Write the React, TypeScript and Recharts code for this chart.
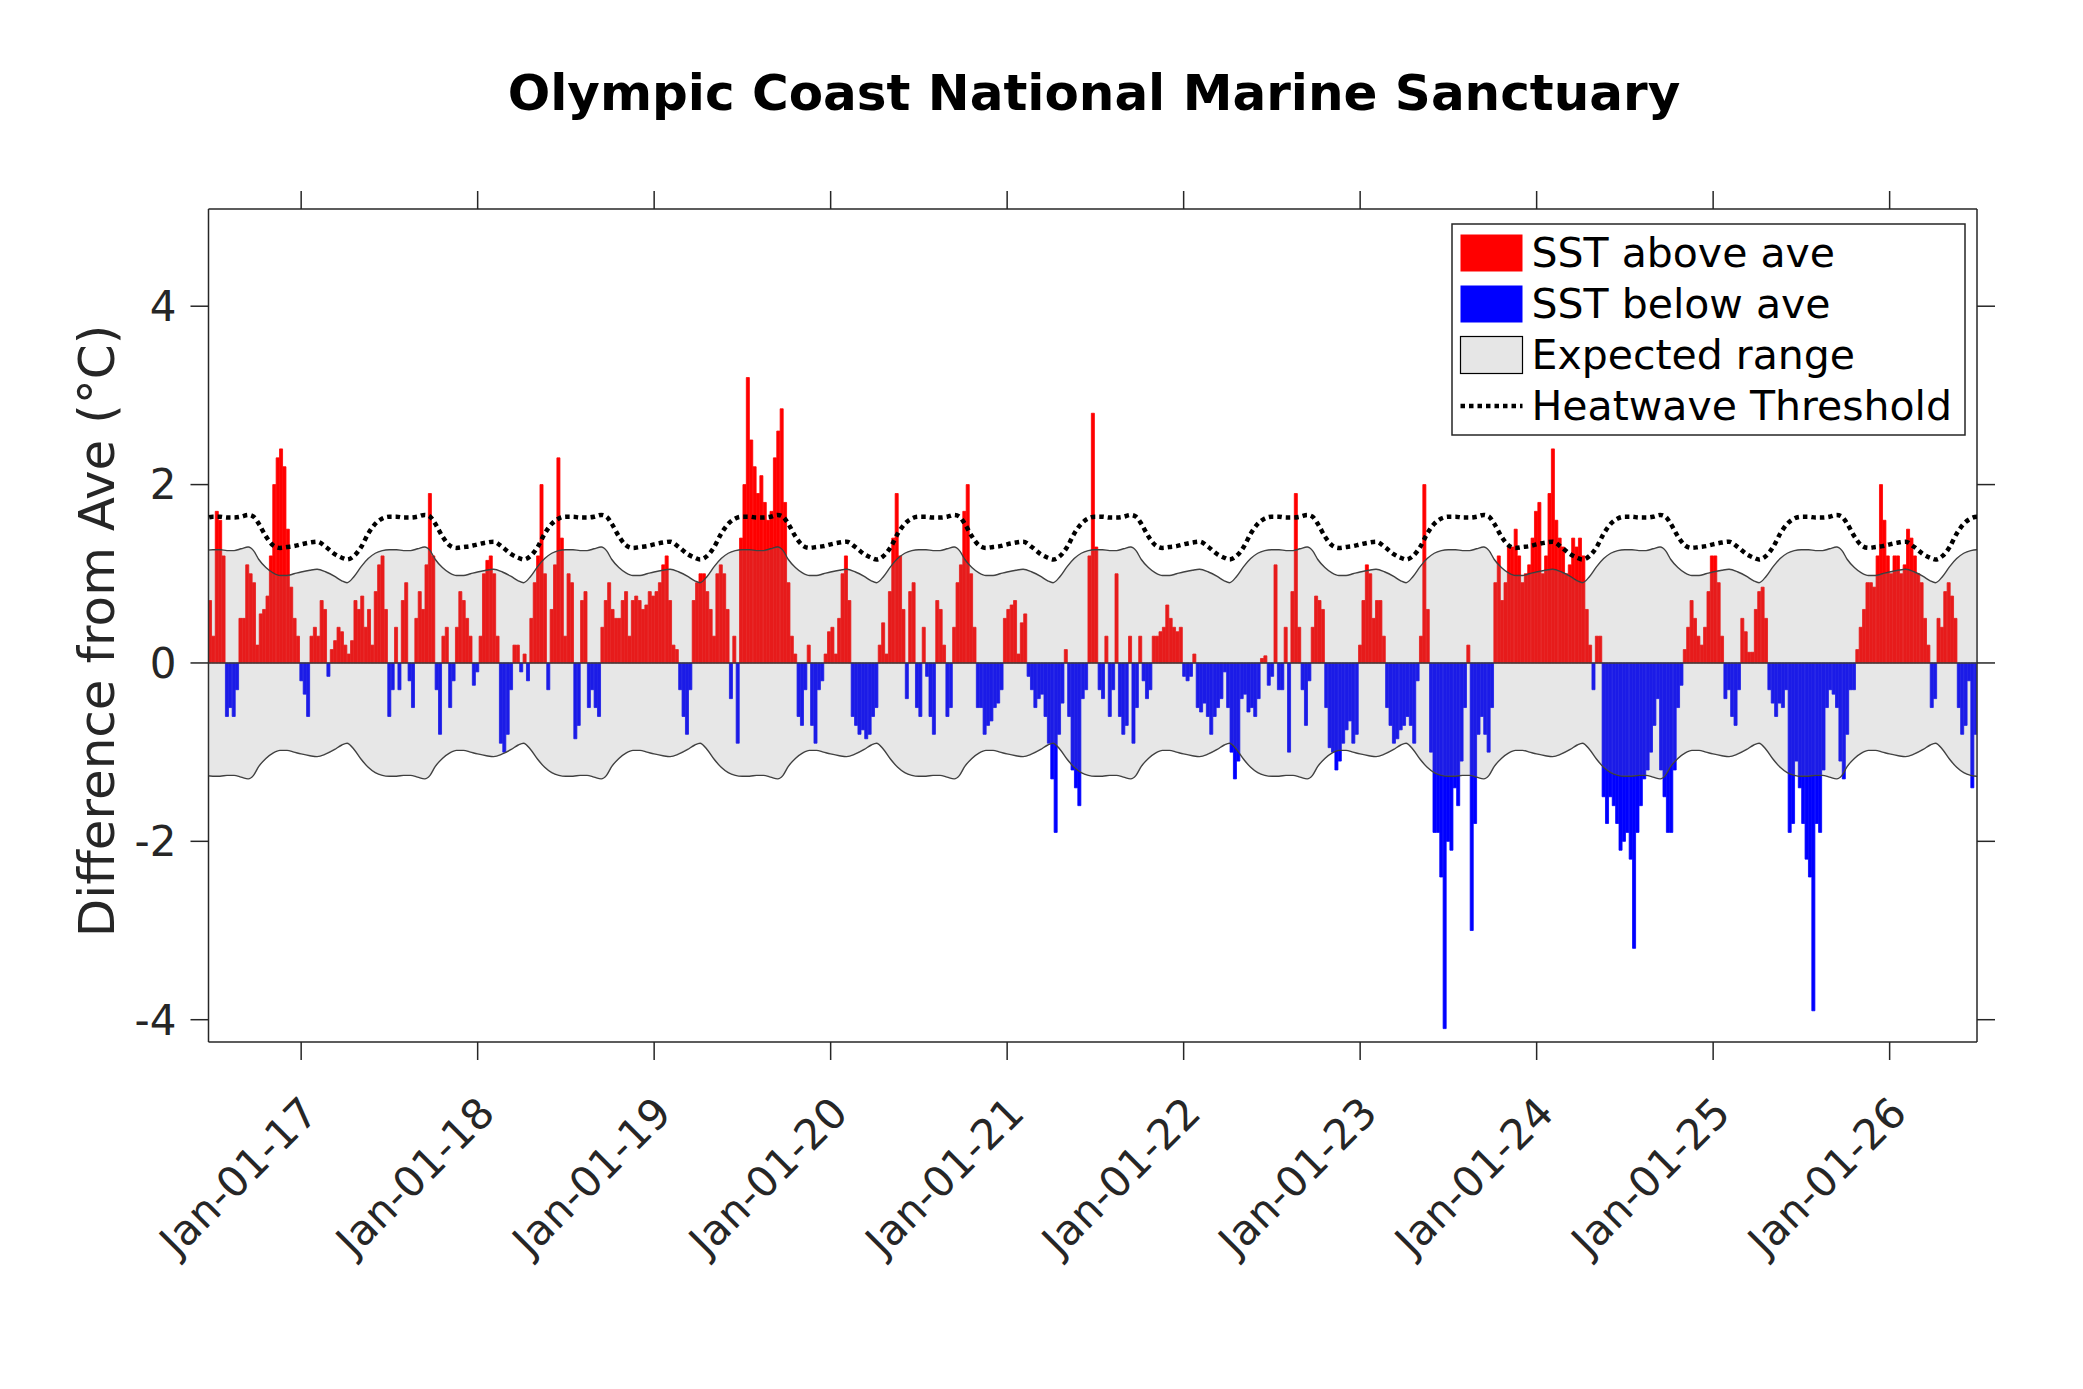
import React from "react"
import { ComposedChart, Bar, Area, Line, XAxis, YAxis, ReferenceLine, Cell } from "recharts"

// weekly SST anomaly (°C), first week starts mid-June 2016
const FIRST_WEEK = 2016.475
const WEEK = 7 / 365.25
const X_DOMAIN = [2016.475, 2026.495]
const Y_DOMAIN = [-4.25, 5.09]
const YEAR_TICKS = [2017, 2018, 2019, 2020, 2021, 2022, 2023, 2024, 2025, 2026]
const Y_TICKS = [-4, -2, 0, 2, 4]

const SST_ANOMALY = [
  0.7, 0.3, 1.7, 1.6, 1.2, -0.6, -0.5, -0.6, -0.3, 0.5,
  0.5, 1.1, 1.0, 0.9, 0.2, 0.55, 0.6, 0.75, 1.2, 2.0,
  2.3, 2.4, 2.2, 1.5, 0.85, 0.5, 0.3, -0.2, -0.35, -0.6,
  0.3, 0.4, 0.3, 0.7, 0.6, -0.15, 0.15, 0.25, 0.4, 0.35,
  0.2, 0.1, 0.25, 0.7, 0.6, 0.75, 0.4, 0.6, 0.2, 0.8,
  1.1, 1.2, 0.6, -0.6, -0.3, 0.4, -0.3, 0.7, 0.9, -0.2,
  -0.5, 0.5, 0.8, 0.6, 1.1, 1.9, 1.2, -0.3, -0.8, 0.3,
  0.4, -0.5, -0.2, 0.4, 0.8, 0.7, 0.5, 0.3, -0.25, -0.1,
  0.3, 1.0, 1.15, 1.2, 1.0, 0.3, -0.9, -1.0, -0.8, -0.3,
  0.2, 0.2, -0.1, 0.1, -0.2, 0.5, 0.9, 1.2, 2.0, 1.0,
  -0.3, 0.6, 1.1, 2.3, 1.4, 0.3, 1.0, 0.9, -0.85, -0.7,
  0.7, 0.8, -0.5, -0.3, -0.5, -0.6, 0.4, 0.7, 0.9, 0.6,
  0.5, 0.5, 0.7, 0.8, 0.3, 0.7, 0.75, 0.7, 0.6, 0.65,
  0.8, 0.75, 0.8, 0.9, 1.1, 1.2, 0.7, 0.2, 0.15, -0.3,
  -0.6, -0.8, -0.3, 0.7, 0.9, 1.0, 1.0, 0.8, 0.6, 0.3,
  1.0, 1.1, 1.0, 0.6, -0.4, 0.3, -0.9, 1.4, 2.0, 3.2,
  2.5, 2.2, 1.9, 2.1, 1.8, 1.6, 1.7, 2.3, 2.6, 2.85,
  1.8, 0.9, 0.3, 0.1, -0.6, -0.7, -0.3, 0.2, -0.7, -0.9,
  -0.3, -0.2, 0.1, 0.35, 0.4, 0.1, 0.5, 1.0, 1.2, 0.7,
  -0.6, -0.7, -0.8, -0.75, -0.85, -0.8, -0.6, -0.5, 0.2, 0.45,
  0.1, 0.8, 1.4, 1.9, 1.2, 0.6, -0.4, 0.8, 0.9, -0.5,
  -0.6, 0.4, -0.15, -0.6, -0.8, 0.7, 0.6, 0.2, -0.6, -0.5,
  0.4, 0.9, 1.1, 1.7, 2.0, 1.0, 0.4, -0.5, -0.5, -0.8,
  -0.7, -0.65, -0.5, -0.45, -0.3, 0.5, 0.6, 0.65, 0.7, 0.1,
  0.45, 0.55, -0.15, -0.3, -0.5, -0.4, -0.35, -0.6, -0.9, -1.3,
  -1.9, -0.8, -0.45, 0.15, -0.6, -1.2, -1.4, -1.6, -0.4, -0.3,
  1.2, 2.8, 1.3, -0.3, -0.4, 0.3, -0.6, -0.3, 1.0, -0.6,
  -0.8, -0.7, 0.3, -0.9, -0.5, 0.3, -0.2, -0.4, -0.3, 0.3,
  0.3, 0.35, 0.4, 0.65, 0.5, 0.4, 0.35, 0.4, -0.15, -0.2,
  -0.15, 0.1, -0.5, -0.55, -0.45, -0.6, -0.8, -0.6, -0.5, -0.4,
  -0.1, -0.5, -1.0, -1.3, -1.1, -0.4, -0.35, -0.55, -0.5, -0.6,
  -0.4, 0.05, 0.08, -0.25, -0.15, 1.1, -0.3, -0.3, 0.4, -1.0,
  0.8, 1.9, 0.4, -0.3, -0.7, -0.2, 0.4, 0.75, 0.7, 0.6,
  -0.5, -0.95, -1.0, -1.2, -1.1, -0.9, -0.75, -0.65, -0.9, -0.8,
  0.2, 0.7, 1.1, 1.0, 0.5, 0.7, 0.7, 0.3, -0.5, -0.7,
  -0.9, -0.85, -0.75, -0.7, -0.6, -0.7, -0.9, -0.2, 0.3, 2.0,
  0.6, -1.0, -1.9, -1.9, -2.4, -4.1, -2.0, -2.1, -1.4, -1.6,
  -1.1, -0.5, 0.2, -3.0, -1.8, -0.8, -0.6, -0.8, -1.0, -0.5,
  0.9, 1.2, 0.7, 0.9, 1.3, 1.3, 1.5, 1.2, 0.9, 1.0,
  1.1, 1.4, 1.7, 1.8, 1.0, 1.2, 1.9, 2.4, 1.6, 1.4,
  1.3, 1.0, 1.1, 1.4, 1.3, 1.4, 1.2, 0.6, 0.2, -0.3,
  0.3, 0.3, -1.5, -1.8, -1.5, -1.6, -1.8, -2.1, -2.0, -1.9,
  -2.2, -3.2, -1.9, -1.6, -1.3, -1.2, -1.0, -0.7, -0.4, -1.2,
  -1.5, -1.9, -1.9, -1.2, -0.5, -0.25, 0.15, 0.4, 0.7, 0.5,
  0.3, 0.2, 0.4, 0.8, 1.2, 1.2, 0.9, 0.3, -0.4, -0.3,
  -0.6, -0.7, -0.3, 0.5, 0.35, 0.12, 0.12, 0.6, 0.8, 0.85,
  0.5, -0.3, -0.45, -0.6, -0.45, -0.5, -0.3, -1.9, -1.8, -1.1,
  -1.4, -1.8, -2.2, -2.4, -3.9, -1.8, -1.9, -1.2, -0.5, -0.3,
  -0.35, -0.5, -1.1, -1.3, -0.8, -0.3, -0.3, 0.15, 0.4, 0.6,
  0.9, 0.9, 0.85, 1.2, 2.0, 1.6, 1.2, 1.0, 1.2, 1.2,
  1.0, 1.1, 1.5, 1.4, 1.2, 1.0, 0.9, 0.5, 0.2, -0.5,
  -0.4, 0.5, 0.4, 0.8, 0.9, 0.75, 0.5, -0.5, -0.8, -0.7,
  -0.2, -1.4, -0.8,
]

// seasonal climatology, fraction of year after Jan 1
const SEASON_T = [
  0.0, 0.05, 0.09, 0.14, 0.19, 0.23, 0.26, 0.3, 0.34, 0.38, 0.42, 0.46, 0.5,
  0.54, 0.58, 0.62, 0.66, 0.7, 0.73, 0.76, 0.8, 0.84, 0.88, 0.92, 0.96,
]
const UPPER_LIMIT = [
  1.02, 1.04, 1.05, 1.02, 0.97, 0.92, 0.9, 0.97, 1.08, 1.17, 1.23, 1.26, 1.27,
  1.27, 1.26, 1.26, 1.28, 1.3, 1.26, 1.16, 1.07, 1.01, 0.98, 0.98, 1.0,
]
const HEATWAVE_THRESHOLD = [
  1.33, 1.35, 1.36, 1.3, 1.22, 1.18, 1.16, 1.2, 1.3, 1.45, 1.56, 1.62, 1.64,
  1.64, 1.63, 1.63, 1.64, 1.66, 1.64, 1.56, 1.42, 1.32, 1.29, 1.3, 1.31,
]
const CLIM_YEARS = [2016, 2017, 2018, 2019, 2020, 2021, 2022, 2023, 2024, 2025, 2026, 2027]

const RED = "#ff0000"
const BLUE = "#0000ff"
const AXIS = "#262626"
const EDGE = "#3a3a3a"
const FONT = "DejaVu Sans"

const W = 2083
const H = 1389
// plot box: left 208.5, top 209, right 1977, bottom 1042
const PLOT_MARGIN = { top: 209, right: 106, left: 208.5, bottom: 347 }

const weekly = SST_ANOMALY.map((v, i) => ({ x: FIRST_WEEK + (i + 0.5) * WEEK, v }))

const band = CLIM_YEARS.flatMap((y) =>
  SEASON_T.map((t, i) => ({
    x: y + t,
    hi: UPPER_LIMIT[i],
    lo: -UPPER_LIMIT[i],
    range: [-UPPER_LIMIT[i], UPPER_LIMIT[i]],
    thr: HEATWAVE_THRESHOLD[i],
  }))
)

const XTick = ({ x, payload }: any) => {
  const ax = x + 9
  const ay = 1105
  return (
    <text
      x={ax}
      y={ay}
      textAnchor="end"
      dominantBaseline="central"
      transform={`rotate(-45 ${ax} ${ay})`}
      fontSize={42}
      fontFamily={FONT}
      fill={AXIS}
    >
      {`Jan-01-${String(payload.value).slice(2)}`}
    </text>
  )
}

const NoLabel = () => <g />

function Legend() {
  const rows = [
    { label: "SST above ave", kind: "red" },
    { label: "SST below ave", kind: "blue" },
    { label: "Expected range", kind: "band" },
    { label: "Heatwave Threshold", kind: "dots" },
  ]
  return (
    <g transform="translate(1452 224)">
      <rect x={0} y={0} width={513} height={211} fill="#fff" stroke={AXIS} strokeWidth={1.5} />
      {rows.map((r, i) => {
        const cy = 29 + i * 51
        return (
          <g key={r.label}>
            {r.kind === "red" && <rect x={8.5} y={cy - 18.5} width={62} height={37} fill={RED} />}
            {r.kind === "blue" && <rect x={8.5} y={cy - 18.5} width={62} height={37} fill={BLUE} />}
            {r.kind === "band" && (
              <rect x={8.5} y={cy - 18.5} width={62} height={37} fill="#e6e6e6" stroke="#000" strokeWidth={1.2} />
            )}
            {r.kind === "dots" && (
              <line x1={8.5} x2={70.5} y1={cy} y2={cy} stroke="#000" strokeWidth={4.5} strokeDasharray="4.5 4" />
            )}
            <text x={79.5} y={cy} dominantBaseline="central" fontSize={41} fontFamily={FONT} fill="#000">
              {r.label}
            </text>
          </g>
        )
      })}
    </g>
  )
}

export default function App() {
  return (
    <div style={{ position: "absolute", left: 0, top: 0, width: W, height: H, background: "#fff" }}>
      {/* axes, anomaly bars and envelope edges */}
      <ComposedChart
        width={W}
        height={H}
        data={weekly}
        margin={{ top: 208, right: 105, left: 0, bottom: 0 }}
        barGap={0}
        barCategoryGap={0}
      >
        <XAxis
          dataKey="x"
          type="number"
          domain={X_DOMAIN}
          ticks={YEAR_TICKS}
          interval={0}
          allowDataOverflow
          height={347}
          tickSize={18}
          tick={<XTick />}
          axisLine={{ stroke: AXIS, strokeWidth: 1.5 }}
          tickLine={{ stroke: AXIS, strokeWidth: 1.5 }}
        />
        <XAxis
          xAxisId="top"
          orientation="top"
          dataKey="x"
          type="number"
          domain={X_DOMAIN}
          ticks={YEAR_TICKS}
          interval={0}
          allowDataOverflow
          height={1}
          tickSize={18}
          tick={<NoLabel />}
          axisLine={{ stroke: AXIS, strokeWidth: 1.5 }}
          tickLine={{ stroke: AXIS, strokeWidth: 1.5 }}
        />
        <YAxis
          type="number"
          domain={Y_DOMAIN}
          ticks={Y_TICKS}
          interval={0}
          allowDataOverflow
          width={208.5}
          tickSize={18}
          tickMargin={14}
          tick={{ fontSize: 42, fontFamily: FONT, fill: AXIS }}
          axisLine={{ stroke: AXIS, strokeWidth: 1.5 }}
          tickLine={{ stroke: AXIS, strokeWidth: 1.5 }}
        />
        <YAxis
          yAxisId="right"
          orientation="right"
          type="number"
          domain={Y_DOMAIN}
          ticks={Y_TICKS}
          interval={0}
          allowDataOverflow
          width={1}
          tickSize={18}
          tick={<NoLabel />}
          axisLine={{ stroke: AXIS, strokeWidth: 1.5 }}
          tickLine={{ stroke: AXIS, strokeWidth: 1.5 }}
        />
        <Bar dataKey="v" barSize={4} isAnimationActive={false}>
          {weekly.map((d, i) => (
            <Cell
              key={`w-${i}`}
              fill={d.v >= 0 ? RED : BLUE}
              stroke={d.v >= 0 ? RED : BLUE}
              strokeWidth={0.8}
            />
          ))}
        </Bar>
        <ReferenceLine y={0} stroke={AXIS} strokeWidth={1.5} />
        <Line data={band} xAxisId="top" yAxisId="right" dataKey="hi" type="monotone" stroke={EDGE} strokeWidth={1.4} dot={false} isAnimationActive={false} />
        <Line data={band} xAxisId="top" yAxisId="right" dataKey="lo" type="monotone" stroke={EDGE} strokeWidth={1.4} dot={false} isAnimationActive={false} />
      </ComposedChart>

      {/* translucent expected-range band and heatwave threshold, drawn over the bars */}
      <div style={{ position: "absolute", left: 0, top: 0, pointerEvents: "none" }}>
        <ComposedChart width={W} height={H} data={band} margin={PLOT_MARGIN}>
          <XAxis dataKey="x" type="number" domain={X_DOMAIN} allowDataOverflow hide />
          <YAxis type="number" domain={Y_DOMAIN} allowDataOverflow hide />
          <Area
            dataKey="range"
            type="monotone"
            fill="#878787"
            fillOpacity={0.2}
            stroke="none"
            isAnimationActive={false}
          />
          <Line
            dataKey="thr"
            type="monotone"
            stroke="#000"
            strokeWidth={4.5}
            strokeDasharray="4.5 4"
            dot={false}
            isAnimationActive={false}
          />
        </ComposedChart>
      </div>

      <svg width={W} height={H} style={{ position: "absolute", left: 0, top: 0, pointerEvents: "none" }}>
        <text x={1094} y={110} textAnchor="middle" fontSize={50} fontWeight="bold" fontFamily={FONT} fill="#000">
          Olympic Coast National Marine Sanctuary
        </text>
        <text
          x={97}
          y={631}
          textAnchor="middle"
          dominantBaseline="central"
          transform="rotate(-90 97 631)"
          fontSize={50}
          fontFamily={FONT}
          fill={AXIS}
        >
          Difference from Ave (°C)
        </text>
        <Legend />
      </svg>
    </div>
  )
}
